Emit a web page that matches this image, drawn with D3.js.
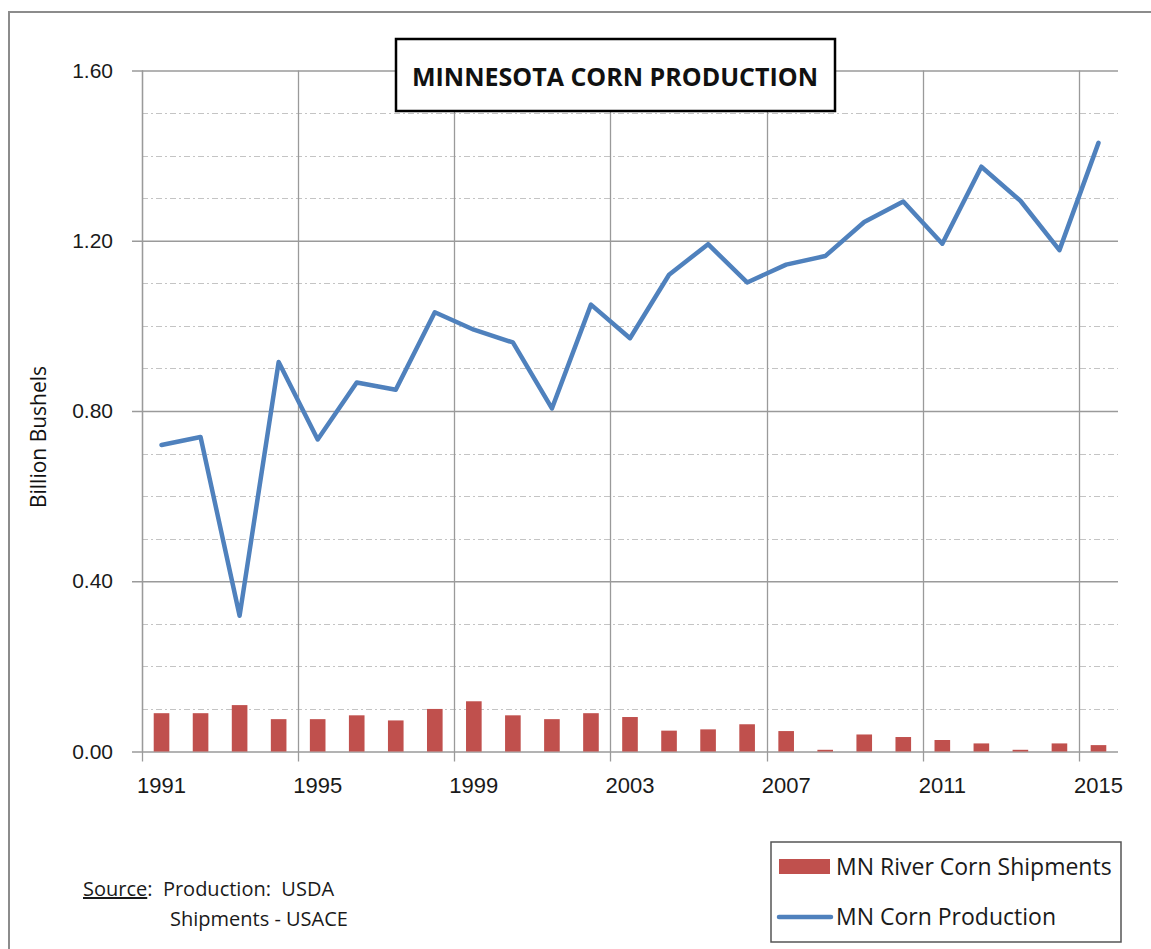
<!DOCTYPE html>
<html>
<head>
<meta charset="utf-8">
<script src="https://cdn.jsdelivr.net/npm/d3@7"></script>
<style>
  body { margin: 0; background: #fff; }
  svg { display: block; font-family: 'Open Sans', sans-serif; }
</style>
</head>
<body>
<svg id="chart" width="1151" height="949"></svg>
<script>
'use strict'

// chart values
const years = d3.range(1991, 2016).map(String)
const production = [0.720, 0.739, 0.319, 0.915, 0.733, 0.867, 0.850, 1.032, 0.991, 0.961,
	0.806, 1.050, 0.971, 1.120, 1.192, 1.102, 1.144, 1.164, 1.244, 1.292,
	1.193, 1.374, 1.294, 1.178, 1.430]
const shipments = [0.090, 0.090, 0.109, 0.076, 0.076, 0.085, 0.073, 0.100, 0.118, 0.085,
	0.076, 0.090, 0.081, 0.049, 0.052, 0.064, 0.048, 0.004, 0.040, 0.034,
	0.027, 0.019, 0.004, 0.019, 0.015]
const yTicks = [0, 0.4, 0.8, 1.2, 1.6]
const yMinor = [0.1, 0.2, 0.3, 0.5, 0.6, 0.7, 0.9, 1.0, 1.1, 1.3, 1.4, 1.5]
const xLabelYears = ['1991', '1995', '1999', '2003', '2007', '2011', '2015']

const svg = d3.select('#chart')
const margins = {left: 142, right: 1118, top: 70.5, bottom: 751.5}

const x = d3.scaleBand().domain(years).range([margins.left, margins.right])
const y = d3.scaleLinear().domain([0, 1.6]).range([margins.bottom, margins.top])

// outer frame
svg.append('rect')
	.attr('x', 9).attr('y', 12)
	.attr('width', 1160).attr('height', 960)
	.attr('fill', 'none')
	.attr('stroke', '#8c8c8c')
	.attr('stroke-width', 2)

// minor gridlines
svg.append('g')
	.selectAll('line')
	.data(yMinor)
	.enter().append('line')
	.attr('x1', margins.left).attr('x2', margins.right)
	.attr('y1', d => Math.round(y(d)) + 0.5).attr('y2', d => Math.round(y(d)) + 0.5)
	.attr('stroke', '#c4c4c4')
	.attr('stroke-width', 1)
	.attr('stroke-dasharray', '6,3,2,3')

// vertical gridlines + x ticks at category boundaries
svg.append('g')
	.selectAll('line')
	.data(xLabelYears)
	.enter().append('line')
	.attr('x1', d => Math.round(x(d)) + 0.5).attr('x2', d => Math.round(x(d)) + 0.5)
	.attr('y1', margins.top).attr('y2', margins.bottom + 10)
	.attr('stroke', '#9a9a9a')
	.attr('stroke-width', 1.3)

// y axis with major gridlines
const yAxis = d3.axisLeft(y).tickValues(yTicks).tickFormat(d3.format('.2f'))
	.tickSize(10).tickPadding(19)
const yG = svg.append('g')
	.attr('transform', 'translate(' + margins.left + ',0)')
	.call(yAxis)
yG.select('.domain').attr('stroke', '#9a9a9a').attr('stroke-width', 1.3)
	.attr('d', 'M0.5,' + margins.top + 'V' + margins.bottom)
yG.selectAll('.tick line')
	.attr('x1', -10).attr('x2', margins.right - margins.left)
	.attr('stroke', '#9a9a9a').attr('stroke-width', 1.3)
yG.selectAll('.tick text')
	.style('font-size', '21px').attr('fill', '#1a1a1a')

// bars
const barW = x.bandwidth() * 0.4
svg.append('g')
	.selectAll('rect')
	.data(years)
	.enter().append('rect')
	.attr('x', (d, i) => x(d) + (x.bandwidth() - barW) / 2)
	.attr('y', (d, i) => y(shipments[i]))
	.attr('width', barW)
	.attr('height', (d, i) => y(0) - y(shipments[i]))
	.attr('fill', '#C0504D')

// x axis labels at category centers
const xAxis = d3.axisBottom(x).tickValues(xLabelYears).tickSize(0).tickPadding(26)
const xG = svg.append('g')
	.attr('transform', 'translate(0,' + margins.bottom + ')')
	.call(xAxis)
xG.select('.domain').remove()
xG.selectAll('.tick text').style('font-size', '22px').attr('fill', '#1a1a1a')

// production line
const line = d3.line()
	.x((d, i) => x(years[i]) + x.bandwidth() / 2)
	.y(d => y(d))
svg.append('path')
	.datum(production)
	.attr('d', line)
	.attr('fill', 'none')
	.attr('stroke', '#4F81BD')
	.attr('stroke-width', 4.5)
	.attr('stroke-linejoin', 'round')
	.attr('stroke-linecap', 'round')

// title box
svg.append('rect')
	.attr('x', 396).attr('y', 39)
	.attr('width', 439).attr('height', 72)
	.attr('fill', '#fff')
	.attr('stroke', '#000')
	.attr('stroke-width', 2.5)
svg.append('text')
	.attr('x', 615).attr('y', 86)
	.attr('text-anchor', 'middle')
	.style('font-size', '25px')
	.style('font-weight', 'bold')
	.attr('fill', '#111')
	.text('MINNESOTA CORN PRODUCTION')

// y axis title
svg.append('text')
	.attr('transform', 'translate(46,437) rotate(-90)')
	.attr('text-anchor', 'middle')
	.style('font-size', '21px')
	.attr('fill', '#111')
	.text('Billion Bushels')

// source note
const src = svg.append('text')
	.attr('x', 83).attr('y', 896)
	.style('font-size', '20px')
	.attr('fill', '#1a1a1a')
src.append('tspan').style('text-decoration', 'underline').text('Source')
src.append('tspan').attr('xml:space', 'preserve').text(':  Production:  USDA')
svg.append('text')
	.attr('x', 170).attr('y', 926)
	.style('font-size', '20px')
	.attr('fill', '#1a1a1a')
	.text('Shipments - USACE')

// legend
const legend = svg.append('g')
legend.append('rect')
	.attr('x', 771).attr('y', 842)
	.attr('width', 350).attr('height', 100)
	.attr('fill', '#fff')
	.attr('stroke', '#555')
	.attr('stroke-width', 1.5)
legend.append('rect')
	.attr('x', 779).attr('y', 859)
	.attr('width', 51).attr('height', 15)
	.attr('fill', '#C0504D')
legend.append('line')
	.attr('x1', 779).attr('x2', 831)
	.attr('y1', 917).attr('y2', 917)
	.attr('stroke', '#4F81BD')
	.attr('stroke-width', 4.5)
	.attr('stroke-linecap', 'round')
legend.append('text')
	.attr('x', 836).attr('y', 875)
	.style('font-size', '23px')
	.attr('fill', '#1a1a1a')
	.text('MN River Corn Shipments')
legend.append('text')
	.attr('x', 836).attr('y', 925)
	.style('font-size', '23px')
	.attr('fill', '#1a1a1a')
	.text('MN Corn Production')
</script>
</body>
</html>
